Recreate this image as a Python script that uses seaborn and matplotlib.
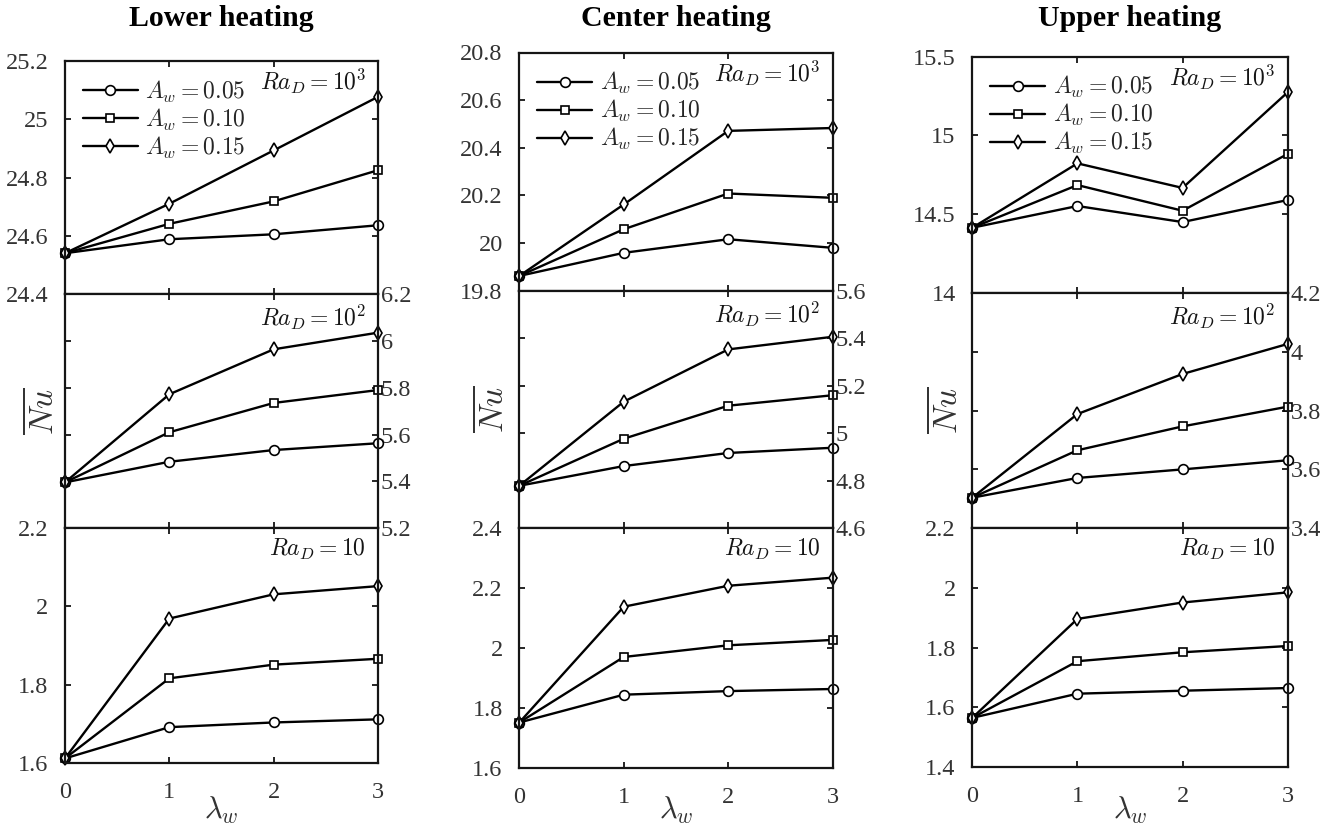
import numpy as np
import pandas as pd
import matplotlib
matplotlib.use("Agg")
import matplotlib.pyplot as plt
from matplotlib.ticker import FuncFormatter
import seaborn as sns

# ---------------- data ----------------
lam = [0, 1, 2, 3]
aw_labels = ["$A_w = 0.05$", "$A_w = 0.10$", "$A_w = 0.15$"]
markers = ["o", "s", "d"]
titles = ["Lower heating", "Center heating", "Upper heating"]
ra_labels = ["$Ra_D = 10^3$", "$Ra_D = 10^2$", "$Ra_D = 10$"]

# Lower heating (rows: A_w = 0.05, 0.10, 0.15)
lower_ra1000 = [[24.54, 24.588, 24.605, 24.636],
                [24.54, 24.641, 24.718, 24.825],
                [24.54, 24.710, 24.893, 25.077]]
lower_ra100 = [[5.396, 5.484, 5.534, 5.563],
               [5.396, 5.610, 5.735, 5.790],
               [5.396, 5.772, 5.964, 6.035]]
lower_ra10 = [[1.611, 1.691, 1.703, 1.711],
              [1.611, 1.816, 1.851, 1.866],
              [1.611, 1.969, 2.031, 2.052]]

# Center heating
center_ra1000 = [[19.862, 19.959, 20.016, 19.980],
                 [19.862, 20.058, 20.208, 20.190],
                 [19.862, 20.162, 20.471, 20.483]]
center_ra100 = [[4.779, 4.862, 4.917, 4.939],
                [4.779, 4.977, 5.116, 5.160],
                [4.779, 5.133, 5.353, 5.406]]
center_ra10 = [[1.751, 1.844, 1.856, 1.863],
               [1.751, 1.970, 2.009, 2.027],
               [1.751, 2.138, 2.208, 2.235]]

# Upper heating
upper_ra1000 = [[14.413, 14.551, 14.449, 14.589],
                [14.413, 14.684, 14.521, 14.882],
                [14.413, 14.822, 14.666, 15.274]]
upper_ra100 = [[3.504, 3.571, 3.600, 3.631],
               [3.504, 3.665, 3.746, 3.813],
               [3.504, 3.788, 3.924, 4.026]]
upper_ra10 = [[1.564, 1.645, 1.655, 1.664],
              [1.564, 1.754, 1.784, 1.805],
              [1.564, 1.896, 1.951, 1.985]]

panels = [[lower_ra1000, lower_ra100, lower_ra10],
          [center_ra1000, center_ra100, center_ra10],
          [upper_ra1000, upper_ra100, upper_ra10]]

ylims = [[(24.4, 25.2), (5.2, 6.2), (1.6, 2.2)],
         [(19.8, 20.8), (4.6, 5.6), (1.6, 2.4)],
         [(14.0, 15.5), (3.4, 4.2), (1.4, 2.2)]]
ysteps = [[0.2, 0.2, 0.2],
          [0.2, 0.2, 0.2],
          [0.5, 0.2, 0.2]]

# ---------------- style ----------------
sns.set_theme(style="ticks")
plt.rcParams["font.family"] = ["Liberation Serif", "DejaVu Serif"]
plt.rcParams["mathtext.fontset"] = "cm"

W, H = 1344, 827
fig = plt.figure(figsize=(W / 100, H / 100), dpi=100)

# pixel layout per column: x_left, x_right, [y_top, y_b1, y_b2, y_bottom]
cols_px = [(65, 378, [61, 294, 528.3, 762.7]),
           (519.3, 832.7, [52.5, 290.7, 528.3, 767.7]),
           (972.3, 1287.7, [56.7, 292.7, 528.3, 766.7])]
ylab_px = [43, 493, 947]
xlab_top_px = 795

ink = "#151515"
tickcol = "#333333"
msizes = {"o": 7.0, "s": 6.3, "d": 7.6}

def fmt(v, pos):
    return ("%.1f" % v).rstrip("0").rstrip(".")

for c, (xl, xr, ys) in enumerate(cols_px):
    for r in range(3):
        yt, yb = ys[r], ys[r + 1]
        ax = fig.add_axes([xl / W, 1 - yb / H, (xr - xl) / W, (yb - yt) / H])
        data = panels[c][r]
        for k in range(3):
            df = pd.DataFrame({"lam": lam, "Nu": data[k]})
            sns.lineplot(data=df, x="lam", y="Nu", ax=ax, color="black",
                         marker=markers[k], markersize=msizes[markers[k]],
                         markerfacecolor="white", markeredgecolor="black",
                         markeredgewidth=1.2, linewidth=1.7, label=aw_labels[k],
                         legend=False, clip_on=False)
        lo, hi = ylims[c][r]
        ax.set_xlim(0, 3)
        ax.set_ylim(lo, hi)
        ax.set_xticks(lam)
        ax.set_yticks(np.round(np.arange(lo, hi + 1e-9, ysteps[c][r]), 3))
        ax.yaxis.set_major_formatter(FuncFormatter(fmt))
        ax.tick_params(direction="in", length=4, width=1.3, color=ink,
                       labelsize=17.5, labelcolor=tickcol,
                       top=True, right=True, bottom=True, left=True)
        ax.tick_params(axis="x", pad=14)
        if r == 1:
            ax.tick_params(axis="y", labelleft=False, labelright=True, pad=2)
        else:
            ax.tick_params(axis="y", labelleft=True, labelright=False, pad=12)
        if r < 2:
            ax.tick_params(labelbottom=False)
            ax.set_xlabel("")
        else:
            ax.set_xlabel("$\\lambda_w$", fontsize=22, color=tickcol)
            ax.xaxis.set_label_coords(0.5, -(xlab_top_px - yb) / (yb - yt))
            ax.xaxis.label.set_va("top")
        ax.set_ylabel("")
        for s in ax.spines.values():
            s.set_linewidth(1.6)
            s.set_color(ink)
        ax.text(0.962, 0.975 if r == 0 else 0.962, ra_labels[r],
                transform=ax.transAxes, ha="right", va="top",
                fontsize=17, color=ink)
        if r == 1:
            fig.text(ylab_px[c] / W, 1 - ((yt + yb) / 2) / H, "$\\overline{Nu}$",
                     rotation=90, ha="center", va="center", fontsize=24,
                     color=tickcol)
        if r == 0:
            handles = ax.get_lines()[:3]
            ax.legend(handles, aw_labels, loc="upper left",
                      bbox_to_anchor=(0.0, 1.0), frameon=False, fontsize=17,
                      handlelength=2.35, handletextpad=0.3, labelspacing=0.08,
                      borderaxespad=0.3, borderpad=0.45)
            fig.text(((xl + xr) / 2) / W, 1 - 18 / H, titles[c], ha="center",
                     va="center", fontsize=21.5, fontweight="bold", color="black")

fig.savefig("out.png", dpi=100, facecolor="white")
